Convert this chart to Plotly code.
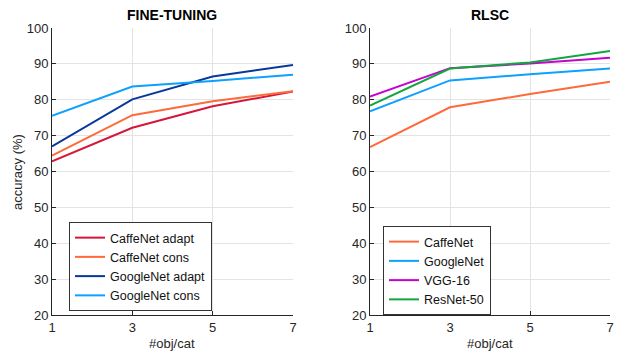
import plotly.graph_objects as go

x = [1, 3, 5, 7]

ft_names = ["CaffeNet adapt", "CaffeNet cons", "GoogleNet adapt", "GoogleNet cons"]
ft_values = [
    [62.8, 72.2, 78.2, 82.3],
    [64.4, 75.7, 79.6, 82.4],
    [67.0, 80.1, 86.5, 89.7],
    [75.5, 83.7, 85.2, 87.0],
]
ft_colors = ["#d6163a", "#ff6a3a", "#08389a", "#0ea0ff"]

rl_names = ["CaffeNet", "GoogleNet", "VGG-16", "ResNet-50"]
rl_values = [
    [66.8, 77.9, 81.6, 85.0],
    [76.8, 85.4, 87.1, 88.7],
    [80.9, 88.8, 90.1, 91.7],
    [78.4, 88.7, 90.4, 93.6],
]
rl_colors = ["#ff6a3a", "#0ea0ff", "#c800d0", "#12a640"]

x_ticks = [1, 3, 5, 7]
y_ticks = [20, 30, 40, 50, 60, 70, 80, 90, 100]

# page body margin is removed by the post script, so lay out in page pixels
W, H = 617, 354


def px(v):
    return v / W


def py(v):
    return 1 - v / H


FONT = "Liberation Sans, Arial, Helvetica, sans-serif"
TXT = "#262626"

fig = go.Figure()
for n, v, c in zip(ft_names, ft_values, ft_colors):
    fig.add_trace(go.Scatter(x=x, y=v, name=n, mode="lines",
                             line=dict(color=c, width=2),
                             xaxis="x", yaxis="y", legend="legend"))
for n, v, c in zip(rl_names, rl_values, rl_colors):
    fig.add_trace(go.Scatter(x=x, y=v, name=n, mode="lines",
                             line=dict(color=c, width=2),
                             xaxis="x2", yaxis="y2", legend="legend2"))

ydom = [py(315), py(28)]
axis_common = dict(showline=True, linecolor="#262626", linewidth=1,
                   mirror=False, ticks="inside", ticklen=4, tickcolor="#262626",
                   showgrid=True, gridcolor="#e3e3e3", gridwidth=1,
                   zeroline=False, automargin=False, ticklabeloverflow="allow",
                   tickfont=dict(family=FONT, size=13, color=TXT))

leg_common = dict(xanchor="left", yanchor="top",
                  bgcolor="white", bordercolor="#333333", borderwidth=1,
                  font=dict(family=FONT, size=12.5, color="#111111"),
                  tracegroupgap=0, itemwidth=30)

fig.update_layout(
    width=W, height=H,
    margin=dict(l=0, r=0, t=0, b=0, pad=0, autoexpand=False),
    paper_bgcolor="white", plot_bgcolor="white",
    font=dict(family=FONT, color=TXT),
    xaxis=dict(domain=[px(52), px(293)], range=[1, 7], tickvals=x_ticks,
               anchor="y", **axis_common),
    yaxis=dict(domain=ydom, range=[20, 100], tickvals=y_ticks,
               anchor="x", **axis_common),
    xaxis2=dict(domain=[px(370), px(610)], range=[1, 7], tickvals=x_ticks,
                anchor="y2", **axis_common),
    yaxis2=dict(domain=ydom, range=[20, 100], tickvals=y_ticks,
                anchor="x2", **axis_common),
    legend=dict(x=px(69), y=py(222), **leg_common),
    legend2=dict(x=px(383), y=py(226), **leg_common),
    showlegend=True,
)

annos = [
    dict(text="<b>FINE-TUNING</b>", x=px(172), y=py(15), size=14, angle=0),
    dict(text="<b>RLSC</b>", x=px(490), y=py(15), size=14, angle=0),
    dict(text="#obj/cat", x=px(172), y=py(343), size=13, angle=0),
    dict(text="#obj/cat", x=px(490), y=py(343), size=13, angle=0),
    dict(text="accuracy (%)", x=px(17), y=py(172), size=13, angle=-90),
]
for a in annos:
    fig.add_annotation(text=a["text"], x=a["x"], y=a["y"], xref="paper", yref="paper",
                       xanchor="center", yanchor="middle", showarrow=False,
                       textangle=a["angle"],
                       font=dict(family=FONT, size=a["size"],
                                 color="#000000" if "<b>" in a["text"] else TXT))

fig.write_html(
    "out.html",
    config={"displayModeBar": False},
    post_script="document.body.style.margin='0';"
                "document.documentElement.style.overflow='hidden';",
)
